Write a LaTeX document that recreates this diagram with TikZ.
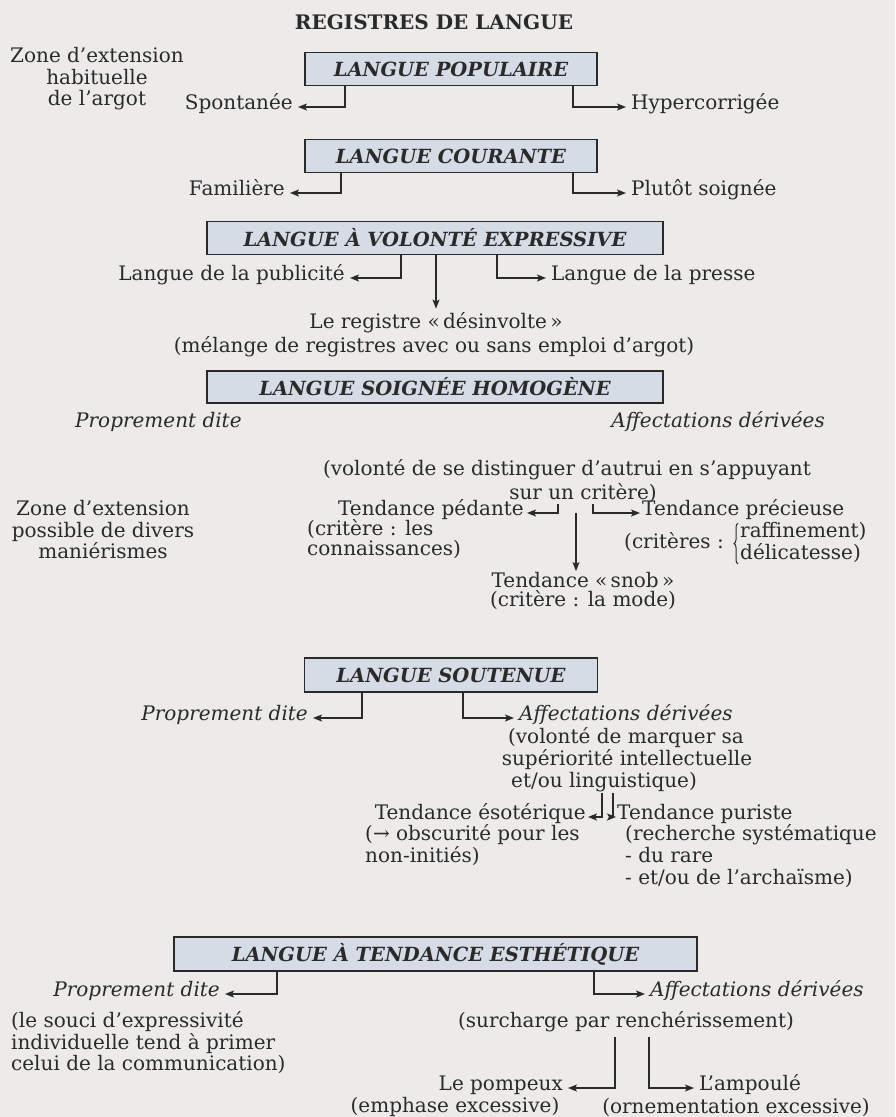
\documentclass[tikz,border=0pt]{standalone}
\usepackage{fontspec}
\setmainfont{DejaVu Serif}
\usetikzlibrary{arrows.meta,decorations.pathreplacing}
\definecolor{bg}{HTML}{ECEBE9}
\definecolor{boxfill}{HTML}{D6DCE5}
\definecolor{ink}{HTML}{2A2A2A}
\begin{document}
\begin{tikzpicture}[x=1pt,y=-1pt,
  every node/.style={text=ink, font=\fontsize{20}{21.5}\selectfont},
  regbox/.style={draw=ink, line width=1.5pt, fill=boxfill, font=\fontsize{19.5}{21}\selectfont\bfseries\itshape, minimum height=33pt, inner sep=0pt},
  lbl/.style={inner xsep=5pt, inner ysep=1pt},
  itl/.style={lbl, font=\fontsize{20}{21.5}\selectfont\itshape},
  arr/.style={draw=ink, line width=1.3pt, -{Stealth[length=9pt,width=7pt,inset=2pt]}},
  ln/.style={draw=ink, line width=1.3pt}]
\fill[bg] (0,0) rectangle (895,1117);
\useasboundingbox (0,0) rectangle (895,1117);

\node[font=\fontsize{20}{21}\selectfont\bfseries] (title) at (434,22) {REGISTRES DE LANGUE};

% Langue populaire
\node[align=center] (zone1) at (97,79) {Zone d'extension\\habituelle\\de l'argot};
\node[regbox, minimum width=292pt] (pop) at (451,69) {LANGUE POPULAIRE};
\node[lbl, anchor=mid east] (spont) at (298,107) {Spontanée};
\node[lbl, anchor=mid west] (hyper) at (626,107) {Hypercorrigée};
\draw[arr] ([xshift=-106pt]pop.south) |- (spont.mid east);
\draw[arr] ([xshift=122pt]pop.south) |- (hyper.mid west);

% Langue courante
\node[regbox, minimum width=292pt] (cour) at (451,156) {LANGUE COURANTE};
\node[lbl, anchor=mid east] (fam) at (290,193) {Familière};
\node[lbl, anchor=mid west] (plut) at (626,193) {Plutôt soignée};
\draw[arr] ([xshift=-110pt]cour.south) |- (fam.mid east);
\draw[arr] ([xshift=122pt]cour.south) |- (plut.mid west);

% Langue a volonte expressive
\node[regbox, minimum width=456pt] (volo) at (435,238) {LANGUE À VOLONTÉ EXPRESSIVE};
\node[lbl, anchor=mid east] (pub) at (350,278) {Langue de la publicité};
\node[lbl, anchor=mid west] (presse) at (546,278) {Langue de la presse};
\node[lbl] (reg) at (436,323) {Le registre «\,désinvolte\,»};
\node[lbl] (mel) at (434,347) {(mélange de registres avec ou sans emploi d'argot)};
\draw[arr] ([xshift=-34pt]volo.south) |- (pub.mid east);
\draw[arr] ([xshift=62pt]volo.south) |- (presse.mid west);
\draw[arr] ([xshift=1pt]volo.south) -- ([xshift=0pt,yshift=3pt]reg.north);

% Langue soignee homogene
\node[regbox, minimum width=456pt, minimum height=32pt] (soign) at (435,387) {LANGUE SOIGNÉE HOMOGÈNE};
\node[itl, anchor=mid west] (pd1) at (70,425) {Proprement dite};
\node[itl, anchor=mid east] (ad1) at (830,425) {Affectations dérivées};
\node[lbl] (vol1) at (567,470) {(volonté de se distinguer d'autrui en s'appuyant};
\node[lbl] (vol2) at (583,493) {sur un critère)};
\node[align=center] (zone2) at (103,530) {Zone d'extension\\possible de divers\\maniérismes};
\node[lbl, anchor=mid east, inner xsep=3pt] (ped) at (527,513) {Tendance pédante};
\node[lbl, anchor=mid west] (crit1) at (302,533) {(critère : les};
\node[lbl, anchor=mid west] (crit2) at (302,553) {connaissances)};
\node[lbl, anchor=mid west, inner xsep=2pt] (prec) at (640,513) {Tendance précieuse};
\node[lbl, anchor=mid west, inner xsep=0pt] (crits) at (624,546) {(critères :};
\node[lbl, anchor=mid west, inner xsep=0pt] (raff) at (740,535) {raffinement)};
\node[lbl, anchor=mid west, inner xsep=0pt] (deli) at (740,557) {délicatesse)};
\draw[ln, line width=1pt, decorate, decoration={brace, amplitude=4pt}] ([xshift=-2pt]deli.south west) -- ([xshift=-2pt,yshift=-2pt]raff.north west);
\node[lbl] (snob) at (583,580) {Tendance «\,snob\,»};
\node[lbl] (mode) at (583,600) {(critère : la mode)};
\draw[arr] ([xshift=-25pt]vol2.south) |- (ped.mid east);
\draw[arr] ([xshift=10pt]vol2.south) |- (prec.mid west);
\draw[arr] ([xshift=-7pt,yshift=-9pt]vol2.south) -- ([xshift=-7pt]snob.north);

% Langue soutenue
\node[regbox, minimum width=293pt, minimum height=34pt] (sout) at (451,675) {LANGUE SOUTENUE};
\node[itl, anchor=mid east] (pd2) at (313,718) {Proprement dite};
\node[itl, anchor=mid west] (ad2) at (514,718) {Affectations dérivées};
\draw[arr] ([xshift=-89pt]sout.south) |- (pd2.mid east);
\draw[arr] ([xshift=12pt]sout.south) |- (ad2.mid west);
\node[lbl] (marq1) at (626,738) {(volonté de marquer sa};
\node[lbl] (marq2) at (627,760) {supériorité intellectuelle};
\node[lbl] (marq3) at (604,782) {et/ou linguistique)};
\node[lbl, anchor=mid east, inner xsep=2pt] (esot) at (588,817) {Tendance ésotérique};
\node[lbl, anchor=mid west, inner xsep=1pt] (pur) at (616,817) {Tendance puriste};
\draw[arr] ([xshift=-2pt]marq3.south) |- (esot.mid east);
\draw[arr] ([xshift=9pt]marq3.south) |- (pur.mid west);
\node[lbl, anchor=mid west] (obs1) at (360,838) {(→ obscurité pour les};
\node[lbl, anchor=mid west] (obs2) at (360,860) {non-initiés)};
\node[lbl, anchor=mid west] (rech1) at (620,838) {(recherche systématique};
\node[lbl, anchor=mid west] (rech2) at (620,860) {- du rare};
\node[lbl, anchor=mid west] (rech3) at (620,882) {- et/ou de l'archaïsme)};

% Langue a tendance esthetique
\node[regbox, minimum width=523pt, minimum height=34pt] (esth) at (435.5,954) {LANGUE À TENDANCE ESTHÉTIQUE};
\node[itl, anchor=mid east] (pd3) at (225,994) {Proprement dite};
\node[itl, anchor=mid west] (ad3) at (645,994) {Affectations dérivées};
\draw[arr] ([xshift=-158.5pt]esth.south) |- (pd3.mid east);
\draw[arr] ([xshift=158.5pt]esth.south) |- (ad3.mid west);
\node[lbl, align=left, anchor=west] (souci) at (6,1043) {(le souci d'expressivité\\individuelle tend à primer\\celui de la communication)};
\node[lbl] (surch) at (626,1022) {(surcharge par renchérissement)};
\node[lbl, anchor=mid east] (pomp) at (568,1088) {Le pompeux};
\node[lbl, anchor=mid west] (amp) at (694,1088) {L'ampoulé};
\node[lbl] (emph) at (455,1107) {(emphase excessive)};
\node[lbl] (orn) at (736,1107) {(ornementation excessive)};
\draw[arr] ([xshift=-11pt,yshift=-4pt]surch.south) |- (pomp.mid east);
\draw[arr] ([xshift=23pt,yshift=-4pt]surch.south) |- (amp.mid west);
\end{tikzpicture}
\end{document}
